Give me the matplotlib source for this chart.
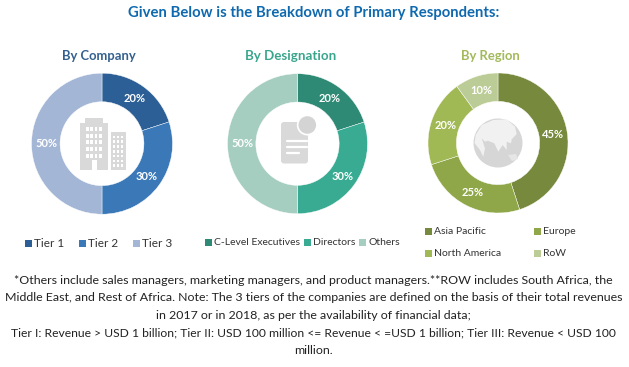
import matplotlib as mpl
mpl.use('Agg')
import matplotlib.pyplot as plt
from matplotlib.patches import Rectangle, Circle, FancyBboxPatch, Polygon

W, H = 629, 367
plt.rcParams['font.family'] = ['Lato', 'DejaVu Sans']

company_labels = ['Tier 1', 'Tier 2', 'Tier 3']
company_values = [20, 30, 50]
company_colors = ['#2C5F95', '#3A78B8', '#A4B6D6']

designation_labels = ['C-Level Executives', 'Directors', 'Others']
designation_values = [20, 30, 50]
designation_colors = ['#2E8A75', '#38AB92', '#A6CEC0']

region_labels = ['Asia Pacific', 'Europe', 'North America', 'RoW']
region_values = [45, 25, 20, 10]
region_colors = ['#76893C', '#8FA748', '#A1B954', '#BCCC97']

notes = [
    '*Others include sales managers, marketing managers, and product managers.**ROW includes South Africa, the',
    'Middle East, and Rest of Africa. Note: The 3 tiers of the companies are defined on the basis of their total revenues',
    'in 2017 or in 2018, as per the availability of financial data;',
    'Tier I: Revenue > USD 1 billion; Tier II: USD 100 million <= Revenue < =USD 1 billion; Tier III: Revenue < USD 100',
    'million.',
]
note_sizes = [8.9, 8.9, 8.9, 8.7, 8.9]

fig = plt.figure(figsize=(W / 100, H / 100), dpi=100)

# overlay in pixel coords, y going down, for text and icons
over = fig.add_axes([0, 0, 1, 1], zorder=5)
over.set_xlim(0, W)
over.set_ylim(H, 0)
over.axis('off')


def donut(cx, cy, r, values, colors):
    ax = fig.add_axes([(cx - r) / W, 1 - (cy + r) / H, 2 * r / W, 2 * r / H])
    wedges, texts, pcts = ax.pie(values, colors=colors, startangle=90, counterclock=False,
                                 radius=1, autopct='%d%%', pctdistance=0.79,
                                 wedgeprops=dict(width=0.405, edgecolor='white', linewidth=0.3))
    for p in pcts:
        p.set_color('white')
        p.set_fontsize(8)
        p.set_fontweight('bold')
    ax.set_xlim(-1, 1)
    ax.set_ylim(-1, 1)
    return ax


donut(102, 143.7, 70.5, company_values, company_colors)
donut(297.5, 143.7, 70, designation_values, designation_colors)
donut(498, 143, 70, region_values, region_colors)

over.text(314, 12.5, 'Given Below is the Breakdown of Primary Respondents:', ha='center', va='center',
          fontsize=10.75, fontweight='bold', color='#0F69AE')
over.text(99, 55.5, 'By Company', ha='center', va='center', fontsize=9.4, fontweight='bold', color='#34608F')
over.text(291, 55.5, 'By Designation', ha='center', va='center', fontsize=9.6, fontweight='bold', color='#3AA58D')
over.text(490.5, 56.5, 'By Region', ha='center', va='center', fontsize=9.4, fontweight='bold', color='#A3B95B')


def legend(items, colors, xs, ys, size=7.5):
    for lab, col, x, y in zip(items, colors, xs, ys):
        over.add_patch(Rectangle((x, y - 3.5), 7, 7, color=col, lw=0))
        over.text(x + 9.5, y, lab, ha='left', va='center', fontsize=size, color='#333333')


legend(company_labels, company_colors, [24.5, 78.5, 132.5], [243.3] * 3, size=8.5)
legend(designation_labels, designation_colors, [205, 304, 359], [242.5] * 3)
legend(region_labels, region_colors, [425, 534, 425, 534], [231, 231, 253.5, 253.5])

for i, line in enumerate(notes):
    over.text(313.5, 280 + i * 17.75, line, ha='center', va='center', fontsize=note_sizes[i], color='#222222')

gray = '#D9D9D9'
# building icon
over.add_patch(Rectangle((80, 122.5), 27.5, 47, color=gray, lw=0))
over.add_patch(Rectangle((85, 118), 18, 5, color=gray, lw=0))
over.add_patch(Rectangle((111, 132), 15, 38, color=gray, lw=0))
for r in range(5):
    for c in range(4):
        over.add_patch(Rectangle((86 + c * 4.4, 127 + r * 6.7), 2.6, 4, color='white', lw=0))
for r in range(7):
    for c in range(3):
        over.add_patch(Rectangle((112.8 + c * 4.1, 135.5 + r * 4.8), 2.2, 2.6, color='white', lw=0))
over.add_patch(Rectangle((91.5, 160), 5.5, 10, color='white', lw=0))

# document icon
over.add_patch(FancyBboxPatch((281, 122), 27, 41.5, boxstyle='round,pad=0,rounding_size=3', color=gray, lw=0))
over.add_patch(Circle((307.3, 125), 10.5, color='white', lw=0))
over.add_patch(Circle((307.3, 125), 8.8, color='#D4D4D4', lw=0))
for y0, x1 in [(140.7, 307), (146.7, 307), (152.7, 299)]:
    over.plot([287, x1], [y0, y0], color='white', lw=1.6, solid_capstyle='round')

# globe icon: gray sphere with pale land
over.add_patch(Circle((498, 143), 24.5, color='#D6D6D6', lw=0))
land = Polygon([(475.7, 135), (481.7, 125), (493.3, 120), (506.7, 119.3), (515, 126.7), (516.7, 134),
                (511.7, 139.3), (511, 143.3), (506.7, 141.7), (506.7, 150), (502.7, 145), (498.3, 151.7),
                (494.3, 143.3), (487.7, 140.7), (485, 141.7), (481.7, 138.3), (485, 148.3), (483.3, 156.7),
                (480, 150), (474.5, 143)],
               closed=True, color='#F1F1F1', lw=0)
over.add_patch(land)
over.add_patch(Polygon([(508, 155), (516, 154), (518, 159), (512, 161)], closed=True, color='#E6E6E6', lw=0))

fig.savefig('out.png', dpi=100)
